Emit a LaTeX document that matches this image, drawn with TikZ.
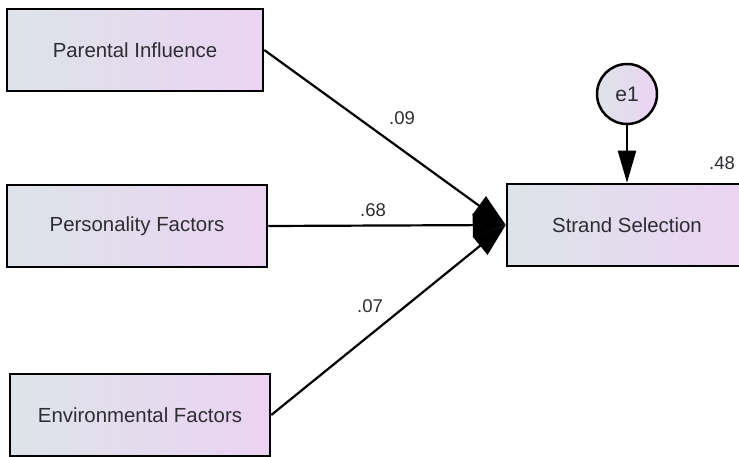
\documentclass[tikz,border=0pt]{standalone}
\usepackage{fontspec}
\setmainfont{Liberation Sans}
\usetikzlibrary{arrows.meta}
\definecolor{boxleft}{RGB}{221,228,233}
\definecolor{boxright}{RGB}{235,211,242}
\definecolor{txt}{RGB}{45,45,50}
\tikzset{varbox/.style={draw=black,line width=2.5pt,left color=boxleft,right color=boxright,minimum height=82pt,text=txt,font=\fontsize{20.4}{24}\selectfont},
         errcirc/.style={circle,draw=black,line width=2.5pt,left color=boxleft,right color=boxright,minimum size=60pt,inner sep=0pt,text=txt,font=\fontsize{21}{24}\selectfont},
         pathline/.style={line width=2.2pt,-{Triangle[length=33pt,width=23pt]}},
         coef/.style={text=txt,font=\fontsize{18.5}{22}\selectfont}}
\begin{document}
\begin{tikzpicture}[x=1pt,y=-1pt]
                      \clip(0,0)rectangle(739,457);
                      \fill[white](0,0)rectangle(739,457);
                      % exogenous variables
                      \node[varbox,minimum width=256pt](par)at(135,50){Parental Influence};
                      \node[varbox,minimum width=260pt](pers)at(137,226){Personality Factors};
                      \node[varbox,minimum width=260pt](env)at(140,415){Environmental Factors};
                      % outcome and error
                      \node[varbox,minimum width=240pt](strand)at(627,225){Strand Selection};
                      \node[errcirc](e1)at(627,94){e1};
                      \draw[pathline](par.east)--(strand.west);
                      \draw[pathline](pers.east)--(strand.west);
                      \draw[pathline](env.east)--(strand.west);
                      \draw[pathline,-{Triangle[length=32pt,width=18pt]}](e1)--(strand.north);
                      % path coefficients
                      \node[coef](c1)at(402,118){.09};
                      \node[coef](c2)at(373,210){.68};
                      \node[coef](c3)at(370,306){.07};
                      \node[coef](r2)at(722,163){.48};
                  \end{tikzpicture}
\end{document}
